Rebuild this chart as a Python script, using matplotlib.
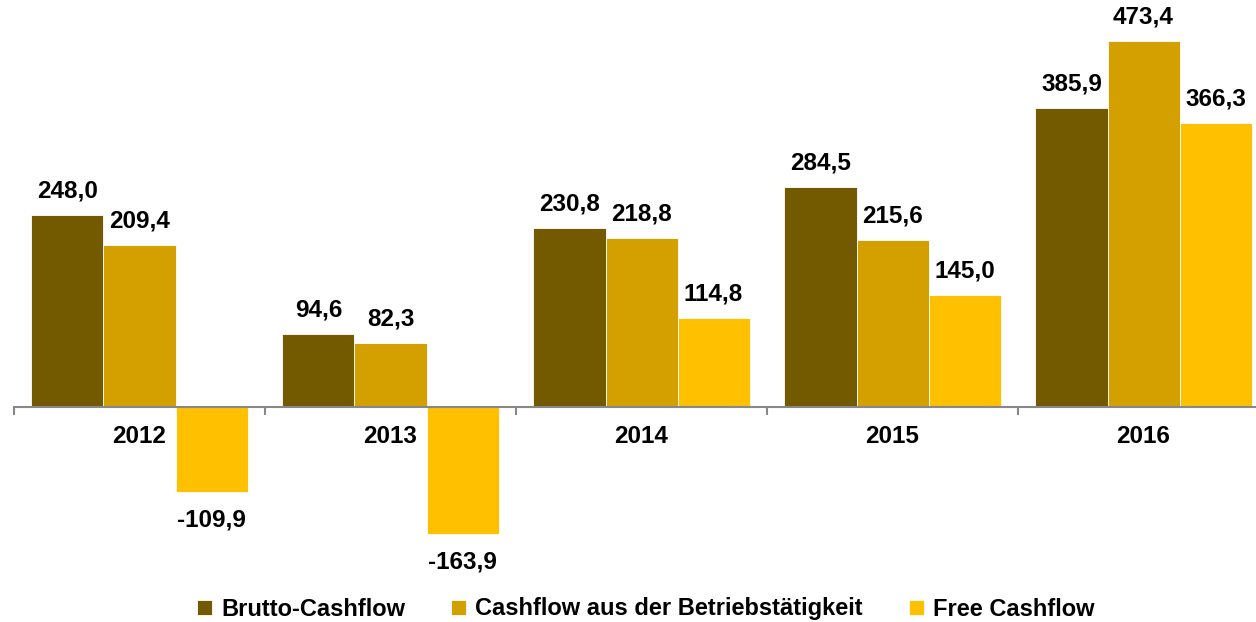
import matplotlib.pyplot as plt
import numpy as np

plt.rcParams['font.family'] = ['Liberation Sans', 'DejaVu Sans']
plt.rcParams['font.weight'] = 'bold'

years = ["2012", "2013", "2014", "2015", "2016"]
brutto = [248.0, 94.6, 230.8, 284.5, 385.9]
betrieb = [209.4, 82.3, 218.8, 215.6, 473.4]
free_cf = [-109.9, -163.9, 114.8, 145.0, 366.3]
names = ["Brutto-Cashflow", "Cashflow aus der Betriebstätigkeit", "Free Cashflow"]
colors = ["#735900", "#D4A000", "#FFC000"]

fig = plt.figure(figsize=(12.56, 6.22), dpi=100)
# axes spans pixel 0..580 vertically, 14..1256 horizontally
ax = fig.add_axes([14 / 1256, 1 - 580 / 622, 1 - 14 / 1256, 580 / 622])

x = np.arange(len(years))
w = 0.287
fs = 17.5
series = [brutto, betrieb, free_cf]
for i, (vals, name, c) in enumerate(zip(series, names, colors)):
    pos = x + (i - 1) * w
    ax.bar(pos, vals, w, color=c, edgecolor="white", linewidth=0.6, label=name, zorder=2)
    for xp, v in zip(pos, vals):
        lbl = f"{v:.1f}".replace(".", ",")
        if v >= 0:
            ax.annotate(lbl, (xp, v), xytext=(0, 9), textcoords="offset points",
                        ha="center", va="bottom", fontsize=fs, fontweight="bold")
        else:
            ax.annotate(lbl, (xp, v), xytext=(0, -12), textcoords="offset points",
                        ha="center", va="top", fontsize=fs, fontweight="bold")

for s in ["top", "right", "left"]:
    ax.spines[s].set_visible(False)
ax.spines["bottom"].set_position(("data", 0))
ax.spines["bottom"].set_color("#888888")
ax.spines["bottom"].set_linewidth(1.5)
ax.set_yticks([])
ax.set_xticks(x)
ax.set_xticklabels(years, fontsize=fs, fontweight="bold")
ax.tick_params(axis="x", which="major", length=0, pad=13)
ax.set_xticks(np.arange(-0.5, 5.0, 1), minor=True)
ax.tick_params(axis="x", which="minor", length=6, width=1.5, color="#888888", direction="out")
ax.set_xlim(-0.5, 4.448)
ax.set_ylim(-223.5, 525.8)

fig.legend(loc="center", bbox_to_anchor=(646 / 1256, 1 - 609 / 622), ncol=3, frameon=False,
           handlelength=0.62, handleheight=0.62, handletextpad=0.4,
           columnspacing=1.95, prop={"weight": "bold", "size": 17})

fig.savefig("out.png", dpi=100)
